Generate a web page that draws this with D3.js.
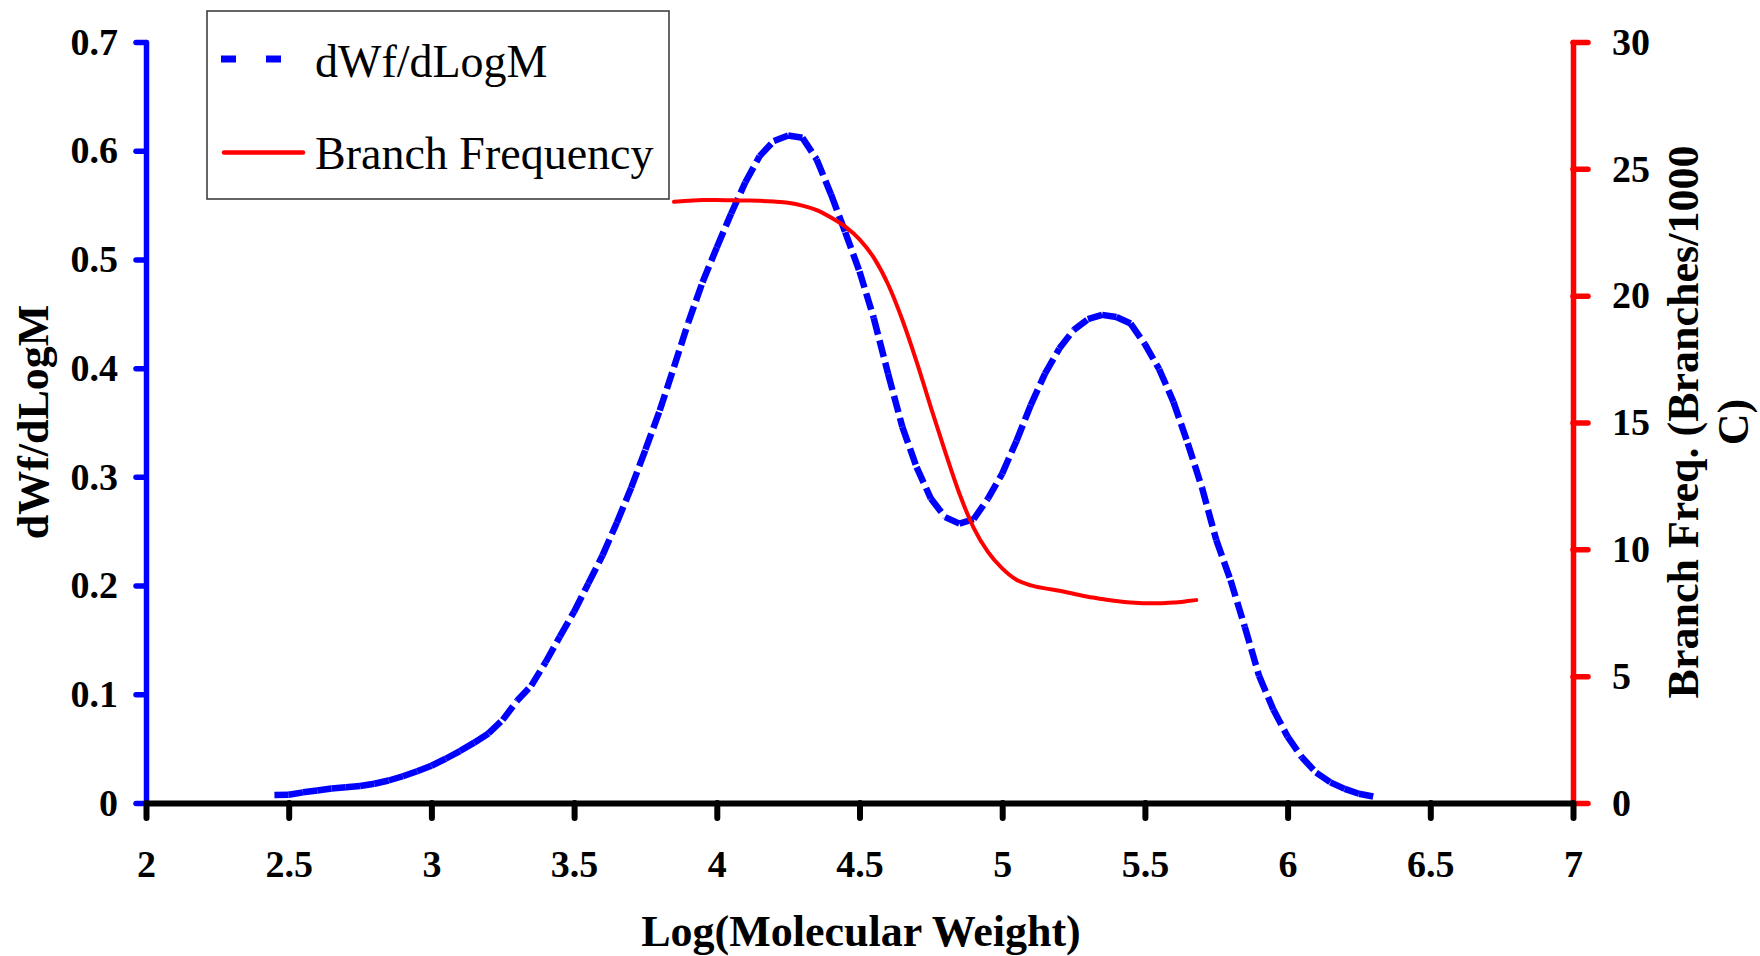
<!DOCTYPE html>
<html>
<head>
<meta charset="utf-8">
<script src="https://cdn.jsdelivr.net/npm/d3@7"></script>
<style>
  html, body { margin: 0; padding: 0; background: #ffffff; }
  svg { display: block; }
</style>
</head>
<body>
<svg id="chart" width="1760" height="956"></svg>
<script>
// Molecular weight distribution (dWf/dLogM) sampled along Log(M)
const logM = [
  2.45, 2.50, 2.55, 2.60, 2.65, 2.70, 2.75, 2.80, 2.85, 2.90,
  2.95, 3.00, 3.05, 3.10, 3.15, 3.20, 3.25, 3.30, 3.35, 3.40,
  3.45, 3.50, 3.55, 3.60, 3.65, 3.70, 3.75, 3.80, 3.85, 3.90,
  3.95, 4.00, 4.05, 4.10, 4.15, 4.20, 4.25, 4.30, 4.35, 4.40,
  4.45, 4.50, 4.55, 4.60, 4.65, 4.70, 4.75, 4.80, 4.85, 4.90,
  4.95, 5.00, 5.05, 5.10, 5.15, 5.20, 5.25, 5.30, 5.35, 5.40,
  5.45, 5.50, 5.55, 5.60, 5.65, 5.70, 5.75, 5.80, 5.85, 5.90,
  5.95, 6.00, 6.05, 6.10, 6.15, 6.20, 6.25, 6.30
];
const dWf = [
  0.0074, 0.0076, 0.0098, 0.0115, 0.0133, 0.0145, 0.0156, 0.0177, 0.0207, 0.0246,
  0.0292, 0.0343, 0.0407, 0.0478, 0.0555, 0.0640, 0.0765, 0.0940, 0.1080, 0.1295,
  0.1530, 0.1760, 0.2020, 0.2280, 0.2580, 0.2900, 0.3250, 0.3610, 0.4010, 0.4420,
  0.4790, 0.5110, 0.5420, 0.5710, 0.5950, 0.6090, 0.6140, 0.6120, 0.5920, 0.5600,
  0.5250, 0.4890, 0.4460, 0.3950, 0.3460, 0.3090, 0.2800, 0.2630, 0.2570, 0.2610,
  0.2800, 0.3030, 0.3330, 0.3660, 0.3950, 0.4180, 0.4350, 0.4450, 0.4490, 0.4470,
  0.4410, 0.4220, 0.3990, 0.3690, 0.3310, 0.2900, 0.2420, 0.2050, 0.1620, 0.1170,
  0.0860, 0.0610, 0.0420, 0.0280, 0.0190, 0.0130, 0.0085, 0.0060
];

// Short-chain branch frequency (branches per 1000 C) along Log(M)
const branchLogM = [
  3.85, 3.90, 3.95, 4.00, 4.05, 4.10, 4.15, 4.20, 4.25, 4.30,
  4.35, 4.40, 4.45, 4.50, 4.55, 4.60, 4.65, 4.70, 4.75, 4.80,
  4.85, 4.90, 4.95, 5.00, 5.05, 5.10, 5.15, 5.20, 5.25, 5.30,
  5.35, 5.40, 5.45, 5.50, 5.55, 5.60, 5.65, 5.68
];
const branchFreq = [
  23.70, 23.74, 23.77, 23.77, 23.76, 23.75, 23.74, 23.71, 23.66, 23.55,
  23.37, 23.08, 22.72, 22.22, 21.50, 20.45, 19.05, 17.40, 15.60, 13.85,
  12.20, 10.85, 9.90, 9.25, 8.80, 8.58, 8.46, 8.37, 8.25, 8.13,
  8.04, 7.96, 7.90, 7.87, 7.87, 7.90, 7.96, 8.00
];

// Axis ticks
const xTicks = [2, 2.5, 3, 3.5, 4, 4.5, 5, 5.5, 6, 6.5, 7];
const leftTicks = [0, 0.1, 0.2, 0.3, 0.4, 0.5, 0.6, 0.7];
const rightTicks = [0, 5, 10, 15, 20, 25, 30];

const seriesNames = ["dWf/dLogM", "Branch Frequency"];
const xTitle = "Log(Molecular Weight)";
const leftTitle = "dWf/dLogM";
const rightTitleLines = ["Branch Freq. (Branches/1000", "C)"];

const BLUE = "#0000ff";
const RED = "#ff0000";
const FONT = "'Liberation Serif', 'Times New Roman', Times, serif";

const svg = d3.select("#chart");
const plot = { left: 146, right: 1573, top: 42, bottom: 803 };

const x = d3.scaleLinear().domain([2, 7]).range([plot.left, plot.right]);
const yL = d3.scaleLinear().domain([0, 0.7]).range([plot.bottom, plot.top]);
const yR = d3.scaleLinear().domain([0, 30]).range([plot.bottom, plot.top]);

function styleAxis(g, color, width) {
  g.select(".domain").attr("stroke", color).attr("stroke-width", width).attr("stroke-linecap", "round");
  g.selectAll(".tick line").attr("stroke", color).attr("stroke-width", width).attr("stroke-linecap", "round");
  g.selectAll(".tick text")
    .attr("fill", "#000")
    .style("font-family", FONT)
    .style("font-weight", "bold")
    .style("font-size", "38px");
}

// Left axis (dWf/dLogM)
const gLeft = svg.append("g")
  .attr("transform", `translate(${plot.left},0)`)
  .call(d3.axisLeft(yL).tickValues(leftTicks).tickSize(10).tickSizeOuter(0).tickPadding(18)
    .tickFormat(d => d === 0 ? "0" : d3.format(".1f")(d)));
styleAxis(gLeft, BLUE, 5.5);

// Right axis (branch frequency)
const gRight = svg.append("g")
  .attr("transform", `translate(${plot.right},0)`)
  .call(d3.axisRight(yR).tickValues(rightTicks).tickSize(15).tickSizeOuter(0).tickPadding(24)
    .tickFormat(d3.format("d")));
styleAxis(gRight, RED, 5.5);

// Bottom axis
const gBottom = svg.append("g")
  .attr("transform", `translate(0,${plot.bottom})`)
  .call(d3.axisBottom(x).tickValues(xTicks).tickSize(15).tickSizeOuter(0).tickPadding(32)
    .tickFormat(d => String(d)));
styleAxis(gBottom, "#000", 6);
gBottom.select(".domain").attr("stroke-linecap", "butt");

// dWf/dLogM: each segment carries its own dash pattern
const pts = logM.map((m, i) => [x(m), yL(dWf[i])]);
const seg = d3.line();
svg.append("g").attr("class", "mwd")
  .selectAll("path")
  .data(d3.pairs(pts))
  .join("path")
  .attr("d", d => seg(d))
  .attr("fill", "none")
  .attr("stroke", BLUE)
  .attr("stroke-width", 6.5)
  .attr("stroke-linecap", "butt")
  .attr("stroke-dasharray", "17,6");

// Branch frequency curve
const bf = d3.line()
  .x((d, i) => x(branchLogM[i]))
  .y(d => yR(d))
  .curve(d3.curveMonotoneX);
svg.append("path")
  .attr("d", bf(branchFreq))
  .attr("fill", "none")
  .attr("stroke", RED)
  .attr("stroke-width", 4)
  .attr("stroke-linecap", "round")
  .attr("stroke-linejoin", "round");

// Legend
const legend = svg.append("g").attr("class", "legend");
legend.append("rect")
  .attr("x", 207).attr("y", 11).attr("width", 462).attr("height", 188)
  .attr("fill", "#fff").attr("stroke", "#333").attr("stroke-width", 1.5);
legend.append("line")
  .attr("x1", 221).attr("x2", 304).attr("y1", 59).attr("y2", 59)
  .attr("stroke", BLUE).attr("stroke-width", 7).attr("stroke-dasharray", "15,30");
legend.append("line")
  .attr("x1", 224).attr("x2", 303).attr("y1", 152.5).attr("y2", 152.5)
  .attr("stroke", RED).attr("stroke-width", 4.5).attr("stroke-linecap", "round");
legend.selectAll("text.item")
  .data(seriesNames)
  .join("text")
  .attr("class", "item")
  .attr("x", 315)
  .attr("y", (d, i) => i === 0 ? 76.5 : 168.5)
  .style("font-family", FONT)
  .style("font-size", "46px")
  .attr("fill", "#000")
  .text(d => d);

// Axis titles
svg.append("text")
  .attr("x", 861).attr("y", 946)
  .attr("text-anchor", "middle")
  .style("font-family", FONT).style("font-weight", "bold").style("font-size", "44px")
  .text(xTitle);

svg.append("text")
  .attr("transform", "translate(48,422) rotate(-90)")
  .attr("text-anchor", "middle")
  .style("font-family", FONT).style("font-weight", "bold").style("font-size", "44px")
  .text(leftTitle);

rightTitleLines.forEach((t, i) => {
  svg.append("text")
    .attr("transform", `translate(${1698 + i * 50},422) rotate(-90)`)
    .attr("text-anchor", "middle")
    .style("font-family", FONT).style("font-weight", "bold").style("font-size", "44px")
    .text(t);
});
</script>
</body>
</html>
